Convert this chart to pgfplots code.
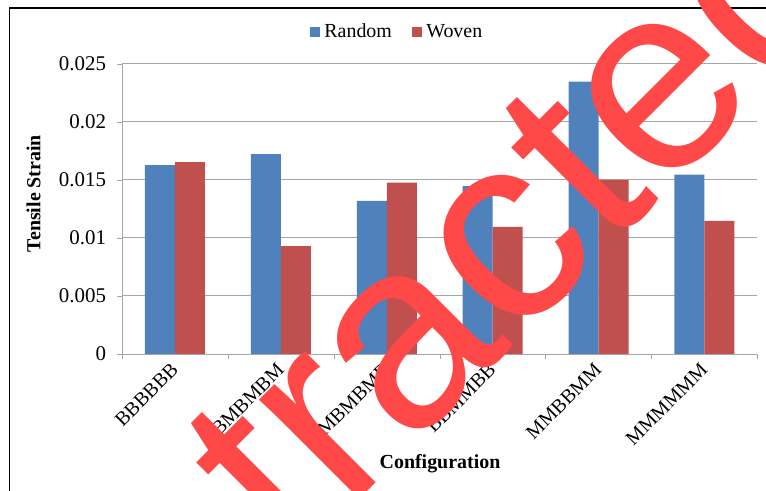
\documentclass[border=0pt]{standalone}
\usepackage{pgfplots}
\pgfplotsset{compat=1.18}
\usepackage{fontspec}
\setmainfont{Liberation Serif}
\newfontfamily\wmfont{Liberation Sans}
\definecolor{rblue}{HTML}{4F81BD}
\definecolor{wred}{HTML}{C0504D}
\definecolor{gridgray}{HTML}{A6A6A6}
\definecolor{wmred}{RGB}{255,72,72}
\begin{document}
\begin{tikzpicture}
\useasboundingbox (0,0) rectangle (383bp,245.5bp);
\draw[black, line width=0.6bp] (4.6bp,-1bp) -- (4.6bp,241.5bp) -- (390bp,241.5bp);
\begin{axis}[
  at={(61bp,68.5bp)}, anchor=south west,
  scale only axis, width=317.7bp, height=145bp,
  xmin=-0.5, xmax=5.5, ymin=0, ymax=0.025,
  scaled y ticks=false,
  ybar=0pt, bar width=15bp,
  axis x line*=bottom, axis y line*=left,
  axis line style={gridgray,-},
  xtick={0,...,5},
  xticklabels={BBBBBB,BMBMBM,MBMBMB,BBMMBB,MMBBMM,MMMMMM},
  major x tick style={draw=none},
  minor xtick={-0.5,0.5,1.5,2.5,3.5,4.5,5.5},
  minor x tick style={gridgray},
  minor tick length=2.5bp,
  major tick length=2.5bp,
  tick align=outside,
  ytick={0,0.005,0.01,0.015,0.02,0.025},
  yticklabels={0,0.005,0.01,0.015,0.02,0.025},
  y tick style={gridgray},
  ymajorgrids, grid style={gridgray, line width=0.5bp},
  tick label style={font=\fontsize{10.5}{12}\selectfont},
  y tick label style={xshift=-2bp},
  x tick label style={xshift=-2.5bp, yshift=3.5bp, rotate=45, anchor=north east, font=\fontsize{10}{12}\selectfont},
  ylabel={\textbf{Tensile Strain}},
  ylabel style={at={(axis description cs:-0.139,0.553)}, anchor=center, font=\fontsize{10}{12}\selectfont},
  xlabel={\textbf{Configuration}},
  xlabel style={at={(axis description cs:0.5005,-0.379)}, anchor=center, font=\fontsize{10}{12}\selectfont},
  legend columns=2,
  legend style={at={(axis description cs:0.4346,1.11)}, anchor=center, draw=none, fill=none,
    font=\fontsize{10}{12}\selectfont,
    /tikz/every even column/.append style={column sep=8bp}},
  legend image code/.code={\fill[#1] (0bp,-2.6bp) rectangle (5.2bp,2.6bp);},
]
\addplot[fill=rblue, draw=none] coordinates {(0,0.01629) (1,0.01722) (2,0.01319) (3,0.01448) (4,0.02347) (5,0.01546)};
\addplot[fill=wred, draw=none] coordinates {(0,0.01655) (1,0.00931) (2,0.01477) (3,0.01095) (4,0.0150) (5,0.01147)};
\legend{Random,Woven}
\end{axis}
\begin{scope}
\clip (0,0) rectangle (383bp,245.5bp);
\node[anchor=base west, rotate=45, inner sep=0pt, text=wmred, font=\wmfont\fontsize{134}{134}\selectfont] at (26bp,-158bp) {Retracted};
\end{scope}
\end{tikzpicture}
\end{document}
